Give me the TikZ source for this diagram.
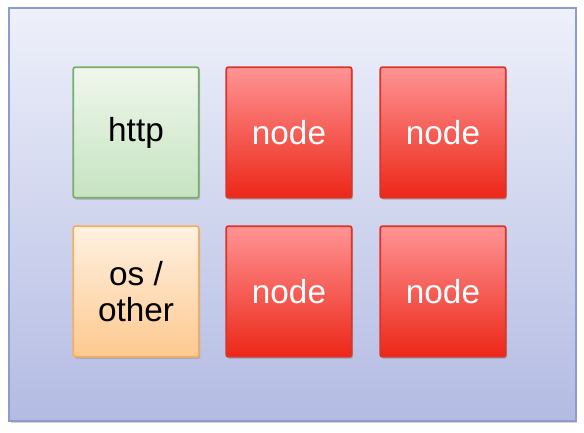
\documentclass[tikz,border=0pt]{standalone}
\usepackage{fontspec}
\setmainfont{Liberation Sans}
\usetikzlibrary{shadows}
\definecolor{frameTop}{HTML}{EEF0FA}
\definecolor{frameBot}{HTML}{B3BBE3}
\definecolor{frameLine}{HTML}{8C9DCB}
\definecolor{redTop}{HTML}{FF9494}
\definecolor{redBot}{HTML}{EC2718}
\definecolor{redLine}{HTML}{D8352B}
\definecolor{greenTop}{HTML}{EFF7EC}
\definecolor{greenBot}{HTML}{C6E3C1}
\definecolor{greenLine}{HTML}{78AD6C}
\definecolor{orangeTop}{HTML}{FFF1E2}
\definecolor{orangeBot}{HTML}{FDC98F}
\definecolor{orangeLine}{HTML}{F6AF5C}
\begin{document}
\begin{tikzpicture}[x=0.75pt,y=-0.75pt]
		\tikzset{box/.style = {shape=rectangle,rounded corners=1.5pt,line width=1.3pt,minimum width=94pt,minimum height=98pt,inner sep=0pt,align=center,font=\fontsize{25}{27}\selectfont,drop shadow={shadow xshift=1pt,shadow yshift=-1.5pt,opacity=0.35}}}
		\tikzset{worker/.style = {box,draw=redLine,top color=redTop,bottom color=redBot,text=white}}
		\useasboundingbox (0,0) rectangle (584,432);
		\node[draw=frameLine,line width=1.5pt,top color=frameTop,bottom color=frameBot,minimum width=425pt,minimum height=310pt,inner sep=0pt,drop shadow={shadow xshift=1pt,shadow yshift=-1.5pt,opacity=0.35}] (frame) at (292.5,214.5) {};
		\node[box,draw=greenLine,top color=greenTop,bottom color=greenBot] (http) at (136,132.5) {http};
		\node[worker] (n1) at (289,132.5) {node};
		\node[worker] (n2) at (443,132.5) {node};
		\node[box,draw=orangeLine,top color=orangeTop,bottom color=orangeBot] (os) at (136,291.5) {os /\\other};
		\node[worker] (n3) at (289,291.5) {node};
		\node[worker] (n4) at (443,291.5) {node};
	\end{tikzpicture}
\end{document}
